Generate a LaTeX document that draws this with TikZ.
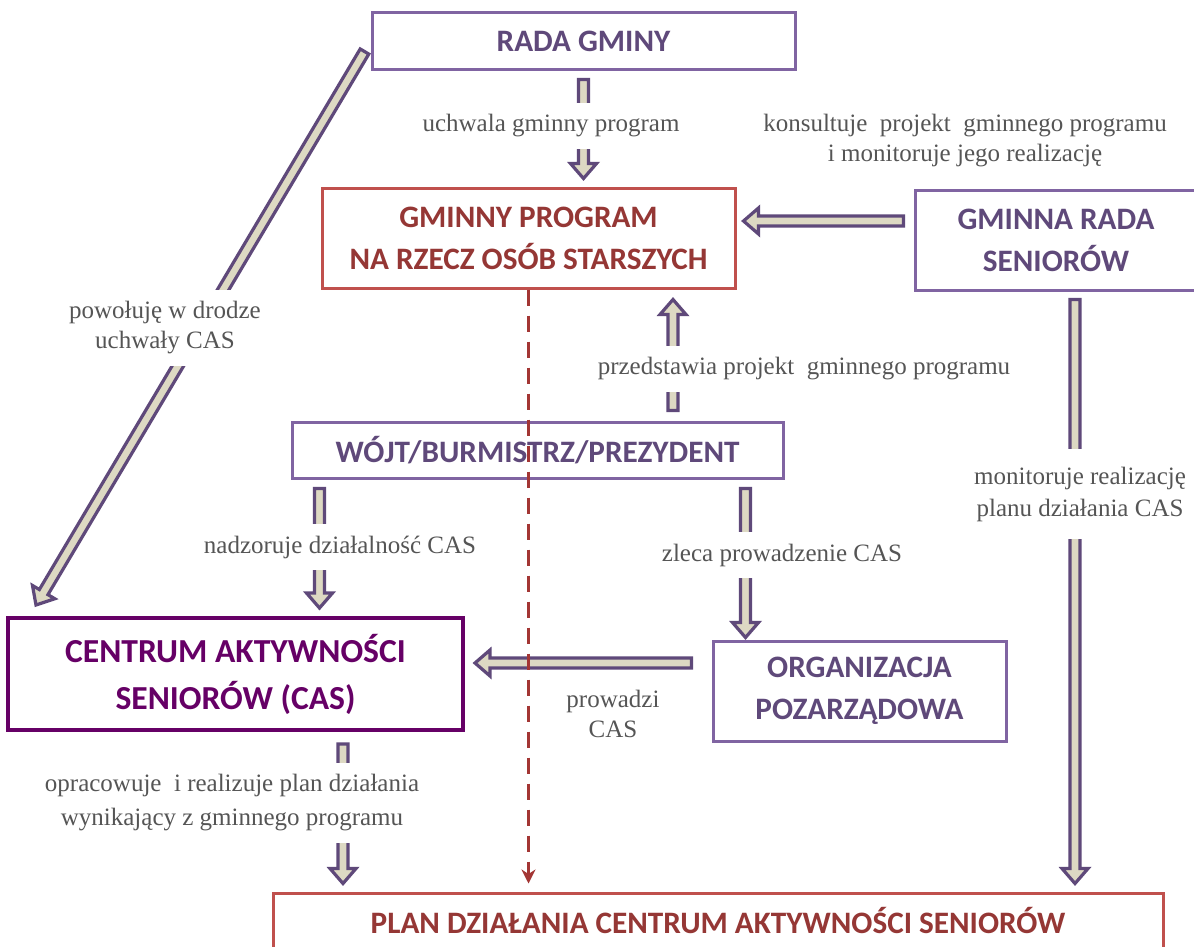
\documentclass[tikz,border=0pt]{standalone}
\usepackage{fontspec}
\setmainfont{Liberation Serif}
\newfontfamily\boxfont{Carlito}
\usetikzlibrary{calc}
\usetikzlibrary{arrows.meta}

\definecolor{boxpurple}{HTML}{8064A2}
\definecolor{textpurple}{HTML}{5F497A}
\definecolor{boxred}{HTML}{C0504D}
\definecolor{textred}{HTML}{953735}
\definecolor{casviolet}{HTML}{660066}
\definecolor{arrowfill}{HTML}{DDD9C3}
\definecolor{arrowline}{HTML}{5F497A}
\definecolor{labelgray}{HTML}{555555}
\definecolor{dashred}{HTML}{A33634}

\tikzset{
	pbox/.style={draw=boxpurple, line width=1.5pt, fill=white, text=textpurple, align=center, inner sep=0pt, font=\boxfont\bfseries\fontsize{15.6}{21}\selectfont},
	rbox/.style={pbox, draw=boxred, text=textred},
	cbox/.style={pbox, draw=casviolet, text=casviolet, line width=2pt, font=\boxfont\bfseries\fontsize{16.8}{23.5}\selectfont},
	lbl/.style={fill=white, text=labelgray, align=center, inner xsep=4pt, inner ysep=6pt, font=\fontsize{12.5}{15}\selectfont},
	blockarrow/.style={draw=arrowline, fill=arrowfill, line width=1.6pt, line join=miter,
		to path={let \p1=(\tikztostart), \p2=(\tikztotarget), \n1={atan2(\y2-\y1,\x2-\x1)} in
			($(\p1)+(\n1+90:5)$) -- ($(\p2)+(\n1+180:15)+(\n1+90:5)$) -- ($(\p2)+(\n1+180:15)+(\n1+90:13)$) -- (\p2)
			-- ($(\p2)+(\n1+180:15)+(\n1-90:13)$) -- ($(\p2)+(\n1+180:15)+(\n1-90:5)$) -- ($(\p1)+(\n1-90:5)$) -- cycle}}
}

\begin{document}
\begin{tikzpicture}[x=0.5pt, y=0.5pt]
	\path[use as bounding box, fill=white] (0,0) rectangle (1194,-947);
	% Boxes %
	\node[pbox, minimum width=211.5pt, minimum height=28.5pt] (rada) at (583.5,-41.5) {RADA GMINY};
	\node[rbox, minimum width=206.5pt, minimum height=50pt] (program) at (528.5,-238) {GMINNY PROGRAM\\NA RZECZ OSÓB STARSZYCH};
	\node[pbox, minimum width=141pt, minimum height=50pt] (seniorzy) at (1056,-240) {GMINNA RADA\\SENIORÓW};
	\node[pbox, minimum width=245.5pt, minimum height=28pt] (wojt) at (537.5,-450) {WÓJT/BURMISTRZ/PREZYDENT};
	\node[cbox, minimum width=227.5pt, minimum height=56pt] (cas) at (235.5,-674) {CENTRUM AKTYWNOŚCI\\SENIORÓW (CAS)};
	\node[pbox, minimum width=146.5pt, minimum height=50pt] (ngo) at (859.5,-691) {ORGANIZACJA\\POZARZĄDOWA};
	\node[rbox, minimum width=445pt, minimum height=28pt] (plan) at (718,-921) {PLAN DZIAŁANIA CENTRUM AKTYWNOŚCI SENIORÓW};
	% Arrows %
	\draw[blockarrow] ([yshift=-4pt]rada.south) to ([yshift=4pt]rada.south |- program.north);
	\coordinate (s1) at ([shift={(-5pt,9.5pt)}]seniorzy.west);
	\draw[blockarrow] (s1) to ([xshift=3.5pt]program.east |- s1);
	\coordinate (w1) at ([shift={(67.75pt,5pt)}]wojt.north);
	\draw[blockarrow] (w1) to ([yshift=-5pt]program.south -| w1);
	\draw[blockarrow] ([shift={(-3pt,-5pt)}]rada.west) to ([shift={(15pt,5.5pt)}]cas.north west);
	\coordinate (w2) at ([shift={(14.5pt,-4.5pt)}]wojt.south west);
	\draw[blockarrow] (w2) to ([yshift=4pt]w2 |- cas.north);
	\coordinate (w3) at ([shift={(-19.5pt,-4.5pt)}]wojt.south east);
	\draw[blockarrow] (w3) to ([yshift=1pt]w3 |- ngo.north);
	\coordinate (n1) at ([shift={(-10pt,14pt)}]ngo.west);
	\draw[blockarrow] (n1) to ([xshift=5pt]cas.east |- n1);
	\coordinate (c1) at ([shift={(53.75pt,-6pt)}]cas.south);
	\draw[blockarrow] (c1) to ([yshift=4pt]c1 |- plan.north);
	\coordinate (s2) at ([shift={(9.5pt,-4pt)}]seniorzy.south);
	\draw[blockarrow] (s2) to ([yshift=4pt]s2 |- plan.north);
	% Labels %
	\node[lbl] (uchwala) at (551,-126) {uchwala gminny program};
	\node[lbl] (konsultuje) at (965,-141) {konsultuje\ \ projekt\ \ gminnego programu\\i monitoruje jego realizację};
	\node[lbl] (przedstawia) at (804,-369) {przedstawia projekt\ \ gminnego programu};
	\node[lbl] (powoluje) at (165,-328) {powołuję w drodze\\uchwały CAS};
	\node[lbl] (nadzoruje) at (340,-547) {nadzoruje działalność CAS};
	\node[lbl] (zleca) at (782,-555) {zleca prowadzenie CAS};
	\node[lbl] (prowadzi) at (613,-714) {prowadzi\\CAS};
	\node[lbl, font=\fontsize{12.5}{17}\selectfont] (opracowuje) at (232,-803) {opracowuje\ \ i realizuje plan działania\\wynikający z gminnego programu};
	\node[lbl, inner ysep=9pt, font=\fontsize{12.5}{16}\selectfont] (monitoruje) at (1080,-494) {monitoruje realizację\\planu działania CAS};
	% Dashed line %
	\draw[dashred, line width=1.8pt, dash pattern=on 8pt off 5pt, -{Stealth[length=7pt, width=7pt]}] (program.south) -- ([yshift=4pt]program.south |- plan.north);
\end{tikzpicture}
\end{document}
